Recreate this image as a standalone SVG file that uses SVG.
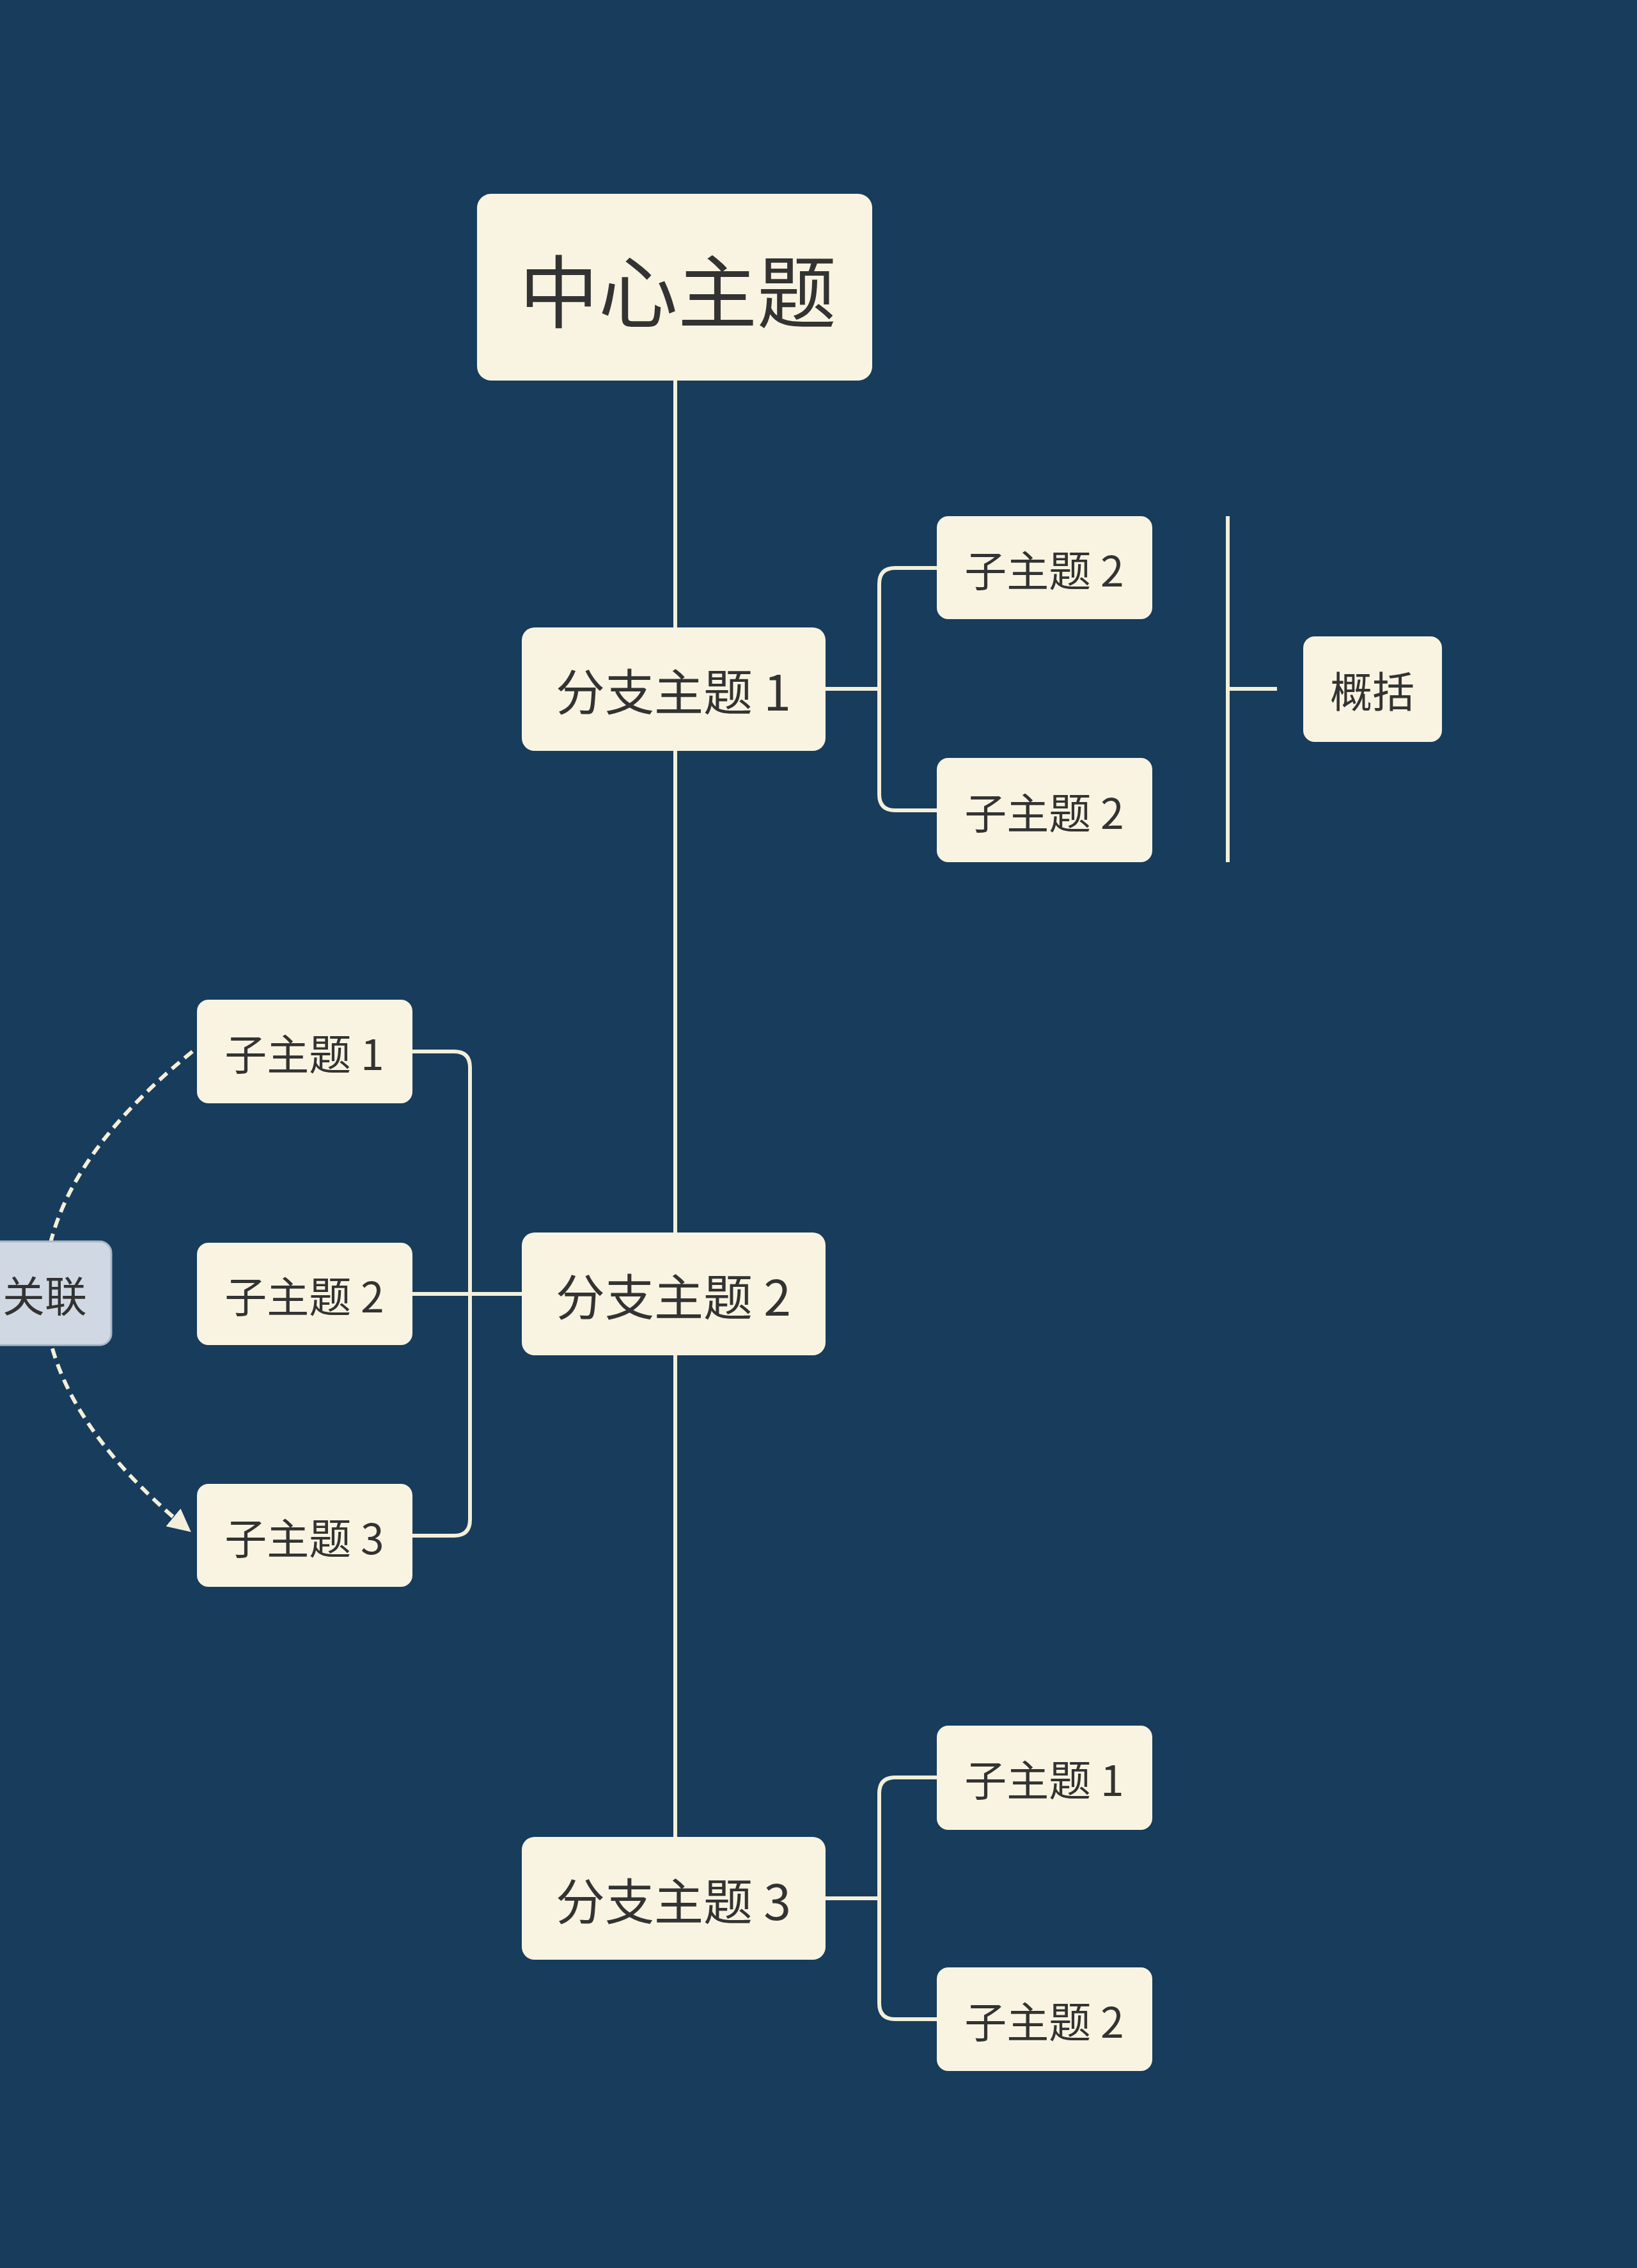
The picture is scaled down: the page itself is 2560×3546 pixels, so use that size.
<svg xmlns="http://www.w3.org/2000/svg" width="2560" height="3546" viewBox="0 0 2560 3546">
<defs>
<style>
.n{fill:#f8f4e1}
.t{font-family:"Noto Sans CJK SC","Liberation Sans",sans-serif;fill:#333;text-anchor:middle;dominant-baseline:central}
.c{fill:none;stroke:#f3efd9;stroke-width:6}
</style>
<marker id="ah" viewBox="0 0 10 10" refX="9" refY="5" markerWidth="6" markerHeight="6" orient="auto"><path d="M0,0L10,5L0,10z" fill="#f3efd9"/></marker>
</defs>
<rect width="2560" height="3546" fill="#173c5c"/>
<g id="connectors">
<path class="c" d="M1056 595V2872"/>
<path class="c" d="M1291 1077H1375M1465 888H1400Q1375 888 1375 913V1242Q1375 1267 1400 1267H1465"/>
<path class="c" d="M1291 2968H1375M1465 2779H1400Q1375 2779 1375 2804V3132Q1375 3157 1400 3157H1465"/>
<path class="c" d="M816 2023H645M645 1644H710Q735 1644 735 1669V2376Q735 2401 710 2401H645"/>
<path class="c" d="M1920 807V1348M1920 1077H1997"/>
<path class="c" d="M301 1644Q-160 2018 296 2393" stroke-dasharray="16 10" marker-end="url(#ah)"/>
</g>
<g id="center"><rect class="n" x="746" y="303" width="618" height="292" rx="22"/><text class="t" x="1060" y="449" font-size="124">中心主题</text></g>
<g id="b1"><rect class="n" x="816" y="981" width="475" height="193" rx="20"/><text class="t" x="1053" y="1077" font-size="77">分支主题 1</text></g>
<g id="b2"><rect class="n" x="816" y="1927" width="475" height="192" rx="20"/><text class="t" x="1053" y="2023" font-size="77">分支主题 2</text></g>
<g id="b3"><rect class="n" x="816" y="2872" width="475" height="192" rx="20"/><text class="t" x="1053" y="2968" font-size="77">分支主题 3</text></g>
<g id="s11"><rect class="n" x="1465" y="807" width="337" height="161" rx="18"/><text class="t" x="1633" y="888" font-size="66">子主题 2</text></g>
<g id="s12"><rect class="n" x="1465" y="1185" width="337" height="163" rx="18"/><text class="t" x="1633" y="1267" font-size="66">子主题 2</text></g>
<g id="s31"><rect class="n" x="1465" y="2698" width="337" height="163" rx="18"/><text class="t" x="1633" y="2779" font-size="66">子主题 1</text></g>
<g id="s32"><rect class="n" x="1465" y="3076" width="337" height="162" rx="18"/><text class="t" x="1633" y="3157" font-size="66">子主题 2</text></g>
<g id="s21"><rect class="n" x="308" y="1563" width="337" height="162" rx="18"/><text class="t" x="476" y="1644" font-size="66">子主题 1</text></g>
<g id="s22"><rect class="n" x="308" y="1943" width="337" height="160" rx="18"/><text class="t" x="476" y="2023" font-size="66">子主题 2</text></g>
<g id="s23"><rect class="n" x="308" y="2320" width="337" height="161" rx="18"/><text class="t" x="476" y="2401" font-size="66">子主题 3</text></g>
<g id="summary"><rect class="n" x="2038" y="995" width="217" height="165" rx="18"/><text class="t" x="2146" y="1077" font-size="66">概括</text></g>
<g id="rel"><rect x="-30" y="1941" width="204" height="162" rx="18" fill="#d0d9e3" stroke="#a9b8c8" stroke-width="3"/><text class="t" x="70" y="2022" font-size="66" fill="#444">关联</text></g>
</svg>
